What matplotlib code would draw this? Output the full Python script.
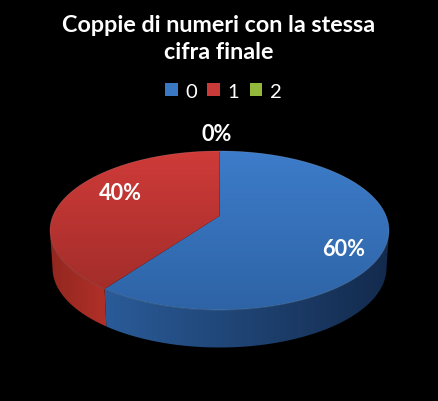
import numpy as np
import matplotlib
matplotlib.use("Agg")
import matplotlib.pyplot as plt
from matplotlib.colors import LinearSegmentedColormap
from matplotlib.patches import Patch, Polygon

title = "Coppie di numeri con la stessa\ncifra finale"
categories = ["0", "1", "2"]
values = [60, 40, 0]
labels = ["60%", "40%", "0%"]

plt.rcParams["font.family"] = ["Lato", "DejaVu Sans"]

# Pie geometry in image pixels (apex, perspective and wall depth).
APEX_X, APEX_Y = 219.5, 217.0
RX, RY, PERSP = 166.7, 76.9, 0.182
DEPTH = 37.5

TOP_COLORS = [("#3d7cca", "#2e64a6"), ("#cf3b39", "#a32d2a"), ("#9bbb59", "#7d9a45")]
# Wall colours run left to right across the image.
WALL_COLORS = [("#2a5b98", "#132a4c"), ("#92271f", "#b13029"), ("#7d9a45", "#5e7434")]
LEGEND_COLORS = ["#3a78c4", "#c93a38", "#93b83c"]


def rim(theta, drop=0.0, shrink=1.0):
	# Circle point, clockwise from the top, seen in perspective.
	denom = 1 + PERSP * np.cos(theta)
	x = APEX_X + shrink * RX * np.sin(theta) / denom
	y = APEX_Y - RY * np.cos(theta) / denom + drop
	return x, y


def gradient(ax, verts, colors, horizontal=False):
	xs, ys = zip(*verts)
	cmap = LinearSegmentedColormap.from_list("g", colors)
	ramp = np.linspace(0, 1, 256)
	ramp = ramp[None, :] if horizontal else ramp[:, None]
	im = ax.imshow(ramp, cmap=cmap, vmin=0, vmax=1, aspect="auto", origin="upper",
		extent=(min(xs), max(xs), max(ys), min(ys)), zorder=2)
	clip = Polygon(verts, closed=True, transform=ax.transData, fill=False, edgecolor="none")
	ax.add_patch(clip)
	im.set_clip_path(clip)


fig = plt.figure(figsize=(4.38, 4.02), dpi=100, facecolor="black")
ax = fig.add_axes([0, 0, 1, 1])
ax.set_facecolor("black")
ax.axis("off")

fractions = np.array(values, dtype=float) / sum(values)
edges = np.concatenate([[0], np.cumsum(fractions)]) * 2 * np.pi

# The wall shows between the two points where the ellipse is widest.
side = np.arccos(-PERSP)

for i, frac in enumerate(fractions):
	if frac == 0:
		continue
	theta = np.linspace(edges[i], edges[i + 1], 300)

	front = theta[(theta > side) & (theta < 2 * np.pi - side)]
	if len(front):
		x0, y0 = rim(front)
		x1, y1 = rim(front, DEPTH, 0.985)
		wall = list(zip(x0, y0)) + list(zip(x1[::-1], y1[::-1]))
		gradient(ax, wall, WALL_COLORS[i], horizontal=True)

	x, y = rim(theta)
	top = [(APEX_X, APEX_Y)] + list(zip(x, y))
	gradient(ax, top, TOP_COLORS[i])
	ax.plot(x, y, color="white", alpha=0.14, lw=0.6, zorder=3)

ax.set_xlim(0, 438)
ax.set_ylim(402, 0)

ax.text(219, 39, title, color="white", fontsize=16.8, fontweight="bold", ha="center",
	va="center", linespacing=1.32)

label_pos = [(344, 250), (120, 194), (217, 135)]
for text, (lx, ly) in zip(labels, label_pos):
	ax.text(lx, ly, text, color="white", fontsize=15.6, fontweight="bold", ha="center",
		va="center", zorder=5)

handles = [Patch(facecolor=c, edgecolor="none") for c in LEGEND_COLORS]
leg = ax.legend(handles, categories, ncol=3, loc="center", frameon=False, fontsize=14.5,
	labelcolor="white", handlelength=0.62, handleheight=0.62, handletextpad=0.38,
	columnspacing=0.52)
leg.set_bbox_to_anchor((0.51, 1 - 92 / 402), transform=fig.transFigure)

fig.savefig("out.png", dpi=100, facecolor="black")
